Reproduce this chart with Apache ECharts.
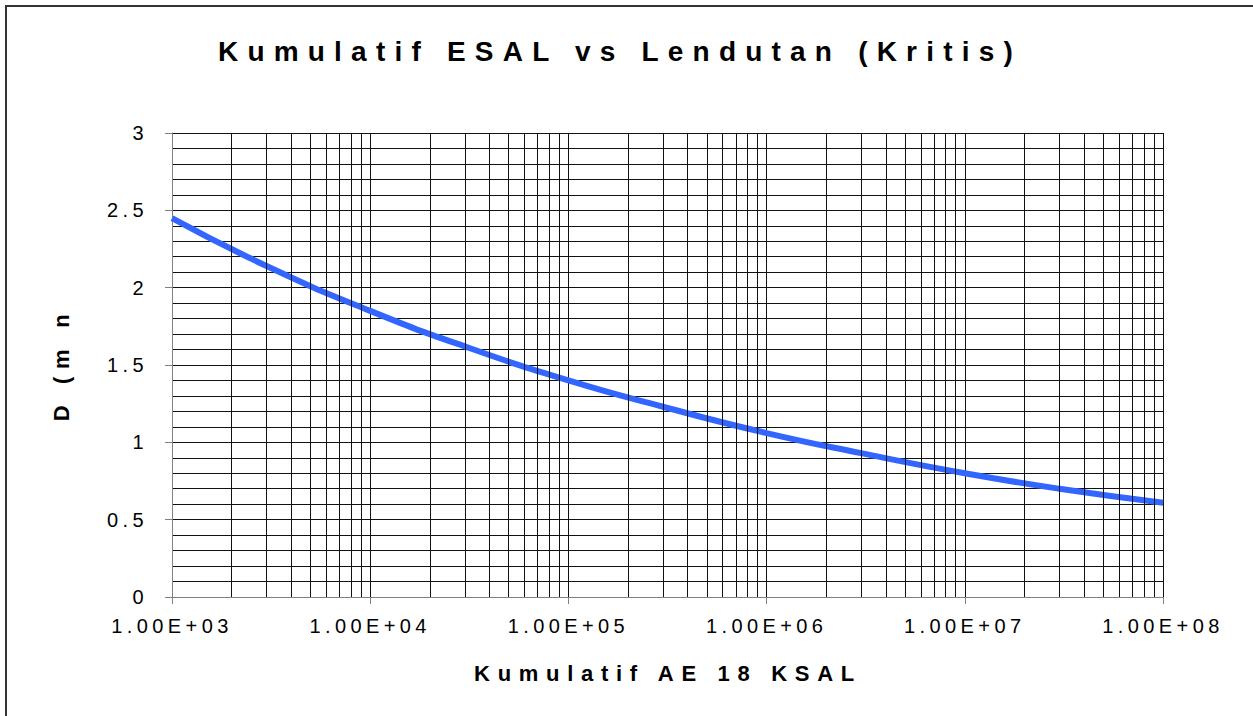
<!DOCTYPE html>
<html>
<head>
<meta charset="utf-8">
<script src="https://cdn.jsdelivr.net/npm/echarts@6/dist/echarts.min.js"></script>
<style>
  html, body { margin: 0; padding: 0; background: #fff; }
  #chart { width: 1253px; height: 716px; }
</style>
</head>
<body>
<div id="chart"></div>
<script>
// data
const esal = [1e3, 3e3, 1e4, 3e4, 1e5, 3e5, 1e6, 3e6, 1e7, 3e7, 1e8];
const lendutan = [2.45, 2.14, 1.85, 1.62, 1.40, 1.23, 1.06, 0.93, 0.80, 0.70, 0.61];
const decades = [1e3, 1e4, 1e5, 1e6, 1e7];
const minorSteps = [2, 3, 4, 5, 6, 7, 8, 9];

const titleText = 'Kumulatif ESAL vs Lendutan (Kritis)';
const xName = 'Kumulatif AE 18 KSAL';
const yName = 'D (m n';

// minor vertical grid at 2..9 of each decade (log axis does not draw them)
let minorX = [];
decades.forEach(function (d) {
  minorSteps.forEach(function (m) { minorX.push({ xAxis: d * m }); });
});

const fontFam = 'Arial, "Liberation Sans", sans-serif';
let chart = echarts.init(document.getElementById('chart'), null, { renderer: 'svg' });

let option = {
  animation: false,
  backgroundColor: '#fff',
  grid: { left: 172, right: 90, top: 133, bottom: 119 },
  graphic: [
    {
      type: 'rect', silent: true,
      shape: { x: 6, y: 6, width: 1270, height: 730 },
      style: { fill: 'none', stroke: '#333', lineWidth: 2 }
    },
    {
      type: 'text', x: 620, y: 51,
      style: { text: titleText, textAlign: 'center', textVerticalAlign: 'middle',
               font: 'bold 28px ' + fontFam, fill: '#000' }
    },
    {
      type: 'text', x: 668, y: 673,
      style: { text: xName, textAlign: 'center', textVerticalAlign: 'middle',
               font: 'bold 22px ' + fontFam, fill: '#000' }
    },
    {
      type: 'text', x: 61, y: 364, rotation: Math.PI / 2,
      style: { text: yName, textAlign: 'center', textVerticalAlign: 'middle',
               font: 'bold 22px ' + fontFam, fill: '#000' }
    }
  ],
  xAxis: {
    type: 'log',
    logBase: 10,
    min: 1e3,
    max: 1e8,
    axisLine: { lineStyle: { color: '#808080', width: 1 } },
    axisTick: { show: true, length: 7, lineStyle: { color: '#808080' } },
    axisLabel: {
      margin: 19,
      color: '#000',
      fontSize: 20,
      fontFamily: fontFam,
      formatter: function (v) {
        let e = Math.round(Math.log10(v));
        return '1.00E+' + (e < 10 ? '0' + e : e);
      }
    },
    splitLine: { show: true, lineStyle: { color: '#111', width: 1 } }
  },
  yAxis: {
    type: 'value',
    min: 0,
    max: 3,
    interval: 0.5,
    axisLine: { show: true, lineStyle: { color: '#808080', width: 1 } },
    axisTick: { show: true, length: 7, lineStyle: { color: '#808080' } },
    axisLabel: { margin: 24, color: '#000', fontSize: 20, fontFamily: fontFam },
    splitLine: { show: true, lineStyle: { color: '#111', width: 1 } },
    minorTick: { show: false, splitNumber: 5 },
    minorSplitLine: { show: true, lineStyle: { color: '#111', width: 1 } }
  },
  series: [
    {
      type: 'line',
      data: esal.map(function (x, i) { return [x, lendutan[i]]; }),
      smooth: 0.5,
      showSymbol: false,
      lineStyle: { color: '#3366ff', width: 6 },
      itemStyle: { color: '#3366ff' },
      markLine: {
        silent: true,
        symbol: ['none', 'none'],
        label: { show: false },
        lineStyle: { color: '#111', width: 1, type: 'solid' },
        data: minorX
      },
      z: 3
    }
  ]
};
chart.setOption(option);

// the original has wide letter spacing on all texts
function spaceLetters() {
  let texts = document.querySelectorAll('#chart svg text');
  texts.forEach(function (t) {
    if (t.textContent === titleText) {
      // stretch the title to its width in the picture
      t.style.letterSpacing = '0px';
      let w = t.getComputedTextLength();
      let n = titleText.length;
      t.style.letterSpacing = Math.max(0, (795 - w) / (n - 1)).toFixed(2) + 'px';
      return;
    }
    let fs = parseFloat(getComputedStyle(t).fontSize) || 12;
    let f = fs >= 21 ? 0.35 : 0.22;
    t.style.letterSpacing = (fs * f).toFixed(1) + 'px';
  });
}
chart.on('finished', spaceLetters);
setTimeout(spaceLetters, 50);
setTimeout(spaceLetters, 300);
</script>
</body>
</html>
